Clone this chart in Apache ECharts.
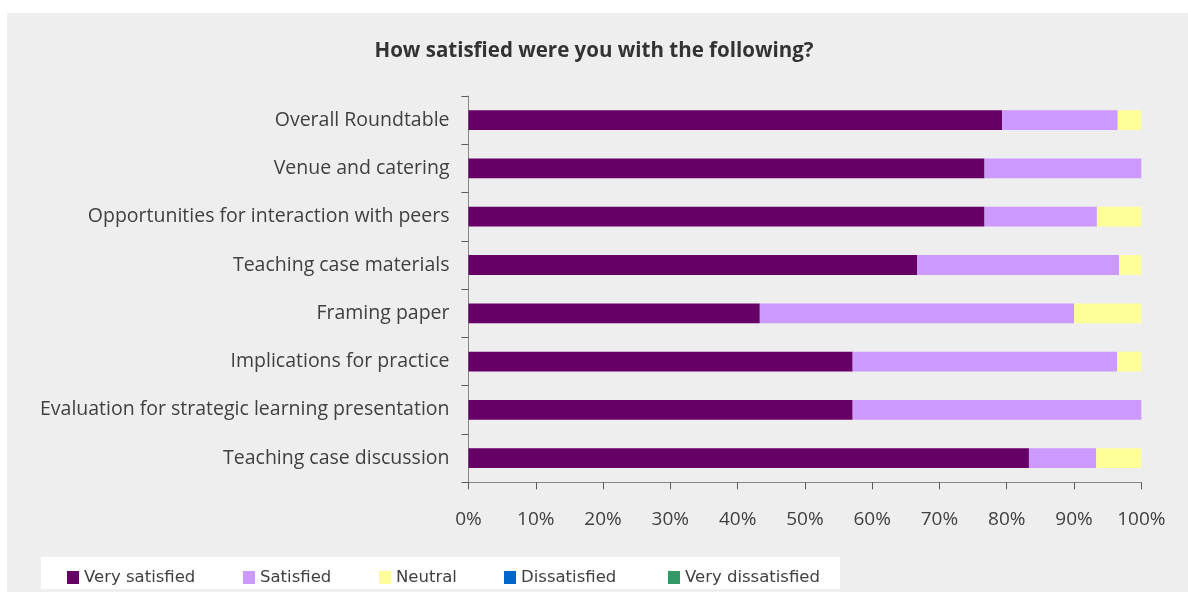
<!DOCTYPE html>
<html>
<head>
<meta charset="utf-8">
<script src="https://cdn.jsdelivr.net/npm/echarts@6/dist/echarts.min.js"></script>
<style>
  html, body { margin: 0; padding: 0; background: #ffffff; }
  #wrap { position: relative; width: 1188px; height: 592px; background: #ffffff; overflow: hidden; }
  #panel { position: absolute; left: 7px; top: 13px; width: 1181px; height: 579px; background: #eeeeee; }
  #chart { position: absolute; left: 0; top: 0; width: 1188px; height: 592px; }
</style>
</head>
<body>
<div id="wrap"><div id="panel"></div><div id="chart"></div></div>
<script>
const titleText = 'How satisfied were you with the following?';
const categories = [
  'Overall Roundtable',
  'Venue and catering',
  'Opportunities for interaction with peers',
  'Teaching case materials',
  'Framing paper',
  'Implications for practice',
  'Evaluation for strategic learning presentation',
  'Teaching case discussion'
];
const veryS = [79.3, 76.7, 76.7, 66.7, 43.3, 57.1, 57.1, 83.3];
const satisfied = [17.2, 23.3, 16.7, 30.0, 46.7, 39.3, 42.9, 10.0];
const neutral = [3.5, 0, 6.6, 3.3, 10.0, 3.6, 0, 6.7];
const dissatisfied = [0, 0, 0, 0, 0, 0, 0, 0];
const veryD = [0, 0, 0, 0, 0, 0, 0, 0];
const seriesNames = ['Very satisfied', 'Satisfied', 'Neutral', 'Dissatisfied', 'Very dissatisfied'];
const seriesColors = ['#660066', '#cc99ff', '#ffff99', '#0066cc', '#339966'];
const seriesData = [veryS, satisfied, neutral, dissatisfied, veryD];
const xTicks = [0, 10, 20, 30, 40, 50, 60, 70, 80, 90, 100];
const legendLefts = [67, 243, 379, 504, 668];

const FONT = '"Open Sans", Lato, sans-serif';
const LFONT = '"DejaVu Sans", "Open Sans", sans-serif';
const chart = echarts.init(document.getElementById('chart'), null, { renderer: 'canvas' });
chart.setOption({
  backgroundColor: 'transparent',
  animation: false,
  title: {
    text: titleText,
    left: 'center',
    top: 36,
    textStyle: { fontFamily: FONT, fontSize: 20.5, fontWeight: 'bold', color: '#333333' }
  },
  graphic: [{
    type: 'rect', z: 0, silent: true,
    shape: { x: 41, y: 557, width: 799, height: 32 },
    style: { fill: '#ffffff' }
  }],
  legend: seriesNames.map((n, i) => ({
    left: legendLefts[i],
    top: 569,
    padding: 0,
    itemWidth: 12,
    itemHeight: 13,
    icon: 'rect',
    selectedMode: false,
    data: [n],
    textStyle: { fontFamily: LFONT, fontSize: 16.5, color: '#404040' }
  })),
  grid: { left: 468.5, right: 46.7, top: 96, bottom: 109.7, containLabel: false },
  xAxis: {
    type: 'value',
    min: 0,
    max: 100,
    interval: 10,
    axisLine: { show: true, lineStyle: { color: '#868686', width: 1 } },
    axisTick: { show: true, length: 7, lineStyle: { color: '#5a5a5a' } },
    splitLine: { show: false },
    axisLabel: {
      margin: 28,
      fontFamily: FONT, fontSize: 19, color: '#404040',
      formatter: v => xTicks.includes(v) ? v + '%' : ''
    }
  },
  yAxis: {
    type: 'category',
    inverse: true,
    data: categories,
    axisLine: { show: true, lineStyle: { color: '#868686', width: 1 } },
    axisTick: { show: true, length: 7, lineStyle: { color: '#5a5a5a' } },
    axisLabel: { margin: 19, fontFamily: FONT, fontSize: 19.5, color: '#404040' }
  },
  series: seriesNames.map((n, i) => ({
    name: n,
    type: 'bar',
    stack: 'total',
    barWidth: '41%',
    data: seriesData[i],
    itemStyle: { color: seriesColors[i] }
  }))
});
</script>
</body>
</html>
